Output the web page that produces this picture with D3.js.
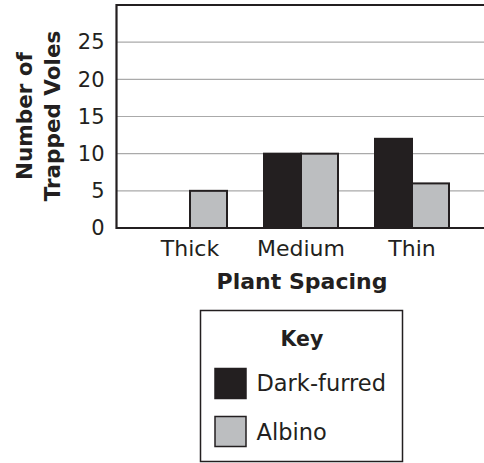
<!DOCTYPE html>
<html><head><meta charset="utf-8">
<script src="https://cdn.jsdelivr.net/npm/d3@7"></script>
<style>body{margin:0;background:#fff}svg{display:block}text{font-family:"DejaVu Sans",Verdana,sans-serif;fill:#231f20}</style>
</head><body>
<svg id="c" width="484" height="463"></svg>
<script>
const categories = ["Thick", "Medium", "Thin"];
const seriesNames = ["Dark-furred", "Albino"];
const darkFurred = [0, 10, 12];
const albino = [5, 10, 6];
const yTicks = [0, 5, 10, 15, 20, 25];
const colors = ["#231f20", "#bcbec0"];

const FONT = '"DejaVu Sans",Verdana,sans-serif';
const svg = d3.select("#c");
const mLeft = 116.5, mTop = 5, mBottom = 228, mRight = 484;
const y = d3.scaleLinear().domain([0, 30]).range([mBottom, mTop]);
const x = d3.scaleBand().domain(categories).range([134.5, 467.5]).paddingInner(1/3).paddingOuter(1/6);
const xs = d3.scaleBand().domain(seriesNames).range([0, x.bandwidth()]);

// gridlines
svg.append("g").selectAll("line").data(yTicks.filter(d => d > 0)).join("line")
  .attr("x1", mLeft).attr("x2", mRight).attr("y1", d => y(d)).attr("y2", d => y(d))
  .attr("stroke", "#aaaaaa").attr("stroke-width", 1.2);

// y axis labels
const yAxis = d3.axisLeft(y).tickValues(yTicks).tickSize(0).tickPadding(12);
const ga = svg.append("g").attr("transform", `translate(${mLeft},0)`).call(yAxis);
ga.select(".domain").remove();
ga.selectAll("text").attr("font-size", 21).attr("fill", "#231f20").style("font-family", FONT);

// bars
const data = [darkFurred, albino];
categories.forEach((c, i) => {
  seriesNames.forEach((s, j) => {
    const v = data[j][i];
    if (v > 0) {
      svg.append("rect")
        .attr("x", x(c) + xs(s)).attr("y", y(v))
        .attr("width", xs.bandwidth()).attr("height", y(0) - y(v))
        .attr("fill", colors[j]).attr("stroke", "#231f20").attr("stroke-width", 2);
    }
  });
});

// frame: top, left, bottom
svg.append("path").attr("d", `M${mRight},${mTop}H${mLeft}V${mBottom}H${mRight}`)
  .attr("fill", "none").attr("stroke", "#231f20").attr("stroke-width", 2.2);

// x axis labels
const xAxis = d3.axisBottom(x).tickSize(0);
const gx = svg.append("g").attr("transform", `translate(0,${mBottom})`).call(xAxis);
gx.select(".domain").remove();
gx.selectAll("text").attr("dy", null).attr("y", 28).attr("font-size", 22).attr("fill", "#231f20").style("font-family", FONT);

svg.append("text").attr("x", 302).attr("y", 289).attr("text-anchor", "middle")
  .attr("font-size", 22).attr("font-weight", "bold").text("Plant Spacing");

const yt = svg.append("text").attr("transform", "translate(0,116) rotate(-90)")
  .attr("text-anchor", "middle").attr("font-size", 21.5).attr("font-weight", "bold");
yt.append("tspan").attr("x", 0).attr("y", 31.5).text("Number of");
yt.append("tspan").attr("x", 0).attr("y", 59.5).text("Trapped Voles");

// legend
svg.append("rect").attr("x", 200.5).attr("y", 310.5).attr("width", 202).attr("height", 151)
  .attr("fill", "#fff").attr("stroke", "#231f20").attr("stroke-width", 1.5);
svg.append("text").attr("x", 302).attr("y", 346).attr("text-anchor", "middle")
  .attr("font-size", 20.5).attr("font-weight", "bold").text("Key");
seriesNames.forEach((s, j) => {
  svg.append("rect").attr("x", 215).attr("y", 368.5 + j * 48).attr("width", 31).attr("height", 30)
    .attr("fill", colors[j]).attr("stroke", "#231f20").attr("stroke-width", 1.5);
  svg.append("text").attr("x", 256.5).attr("y", 391 + j * 49).attr("font-size", 22.5).text(s);
});
</script>
</body></html>
